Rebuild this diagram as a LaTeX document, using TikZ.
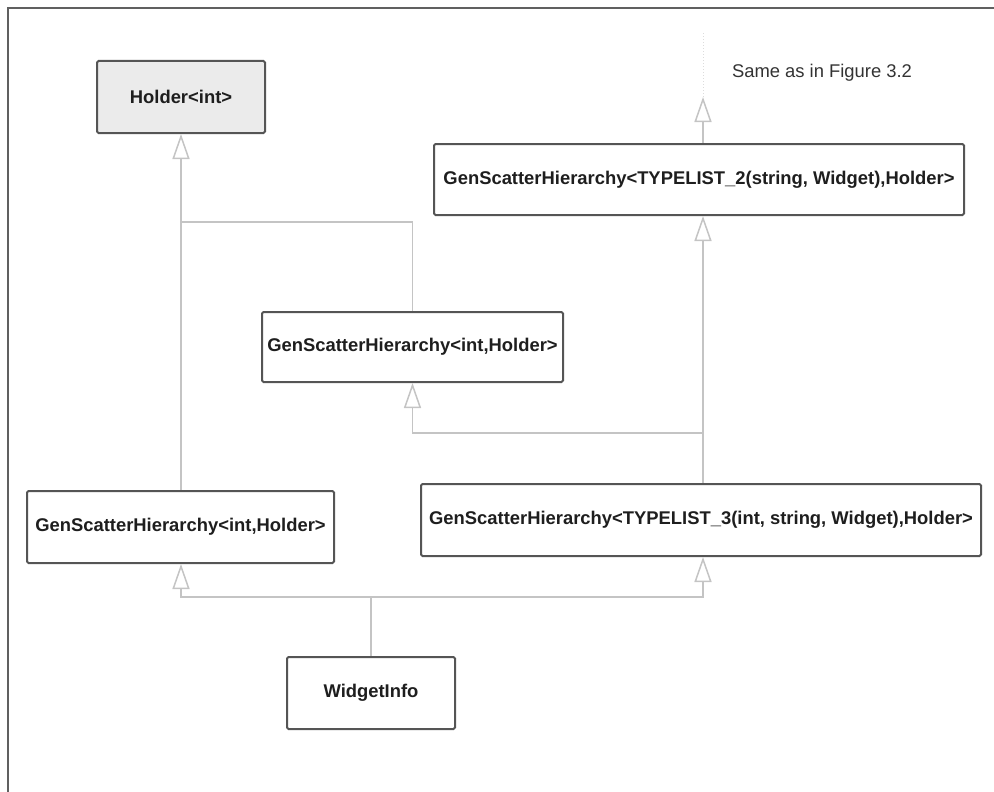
\documentclass[tikz,border=0pt]{standalone}
\usepackage{fontspec}
\setmainfont{Liberation Sans}
\usetikzlibrary{arrows.meta}
\definecolor{boxline}{HTML}{555555}
\definecolor{connline}{HTML}{C4C4C4}
\definecolor{framecol}{HTML}{606060}
\definecolor{holderfill}{HTML}{EBEBEB}
\definecolor{txt}{HTML}{1E1E1E}
\tikzset{
  classbox/.style={draw=boxline, line width=2pt, rounded corners=1.5pt, fill=white,
    text=txt, font=\fontsize{18.4}{20}\selectfont\bfseries, inner sep=0pt,
    minimum height=72pt},
  conn/.style={draw=connline, line width=1.5pt},
  inh/.style={conn, -{Triangle[length=25pt,width=17pt,fill=white]}},
  faint/.style={draw=connline!60, line width=1pt, dotted},
  note/.style={text=black!80, font=\fontsize{18.4}{20}\selectfont, inner sep=0pt}
}
\begin{document}
\begin{tikzpicture}[x=1pt,y=-1pt]
\useasboundingbox (0,0) rectangle (994,792);
\draw[framecol, line width=2pt] (8,792) -- (8,8) -- (994,8);

\node[classbox, fill=holderfill, minimum width=168pt] (holder) at (181,97) {Holder<int>};
\node[classbox, minimum width=530pt, minimum height=71pt] (tl2) at (699,179.5) {GenScatterHierarchy<TYPELIST\_2(string, Widget),Holder>};
\node[classbox, minimum width=301pt, minimum height=70pt] (mid) at (412.5,347) {GenScatterHierarchy<int,Holder>};
\node[classbox, minimum width=307pt] (left) at (180.5,527) {GenScatterHierarchy<int,Holder>};
\node[classbox, minimum width=560pt] (tl3) at (701,520) {GenScatterHierarchy<TYPELIST\_3(int, string, Widget),Holder>};
\node[classbox, minimum width=168pt] (winfo) at (371,693) {WidgetInfo};
\node[note] (same) at (822,73) {Same as in Figure 3.2};

\coordinate (rx) at (703,0);
\coordinate (ja) at (181,222);
\coordinate (jb) at (703,433);
\coordinate (jc) at (371,597);
\coordinate (toptip) at (703,97);
\coordinate (topend) at (703,33);

% left column
\draw[inh] (left.north -| holder.south) -- (holder.south);
\draw[conn] (mid.north) |- (ja);
% right column
\draw[inh] (rx |- tl3.north) -- (rx |- tl2.south);
\draw[inh] (jb) -| (mid.south);
\draw[inh] (rx |- tl2.north) -- (toptip);
\draw[faint] (toptip) -- (topend);
% WidgetInfo
\draw[conn] (winfo.north) -- (jc);
\draw[inh] (jc) -| (left.south -| holder.south);
\draw[inh] (jc) -| (rx |- tl3.south);
\end{tikzpicture}
\end{document}
